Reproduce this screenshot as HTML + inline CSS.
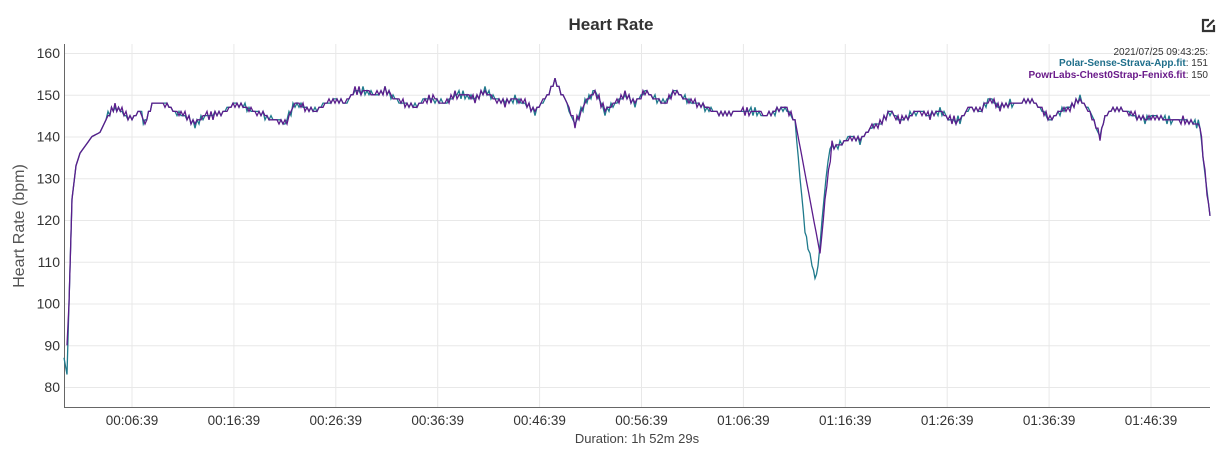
<!DOCTYPE html>
<html><head><meta charset="utf-8"><style>
body{margin:0;background:#fff;width:1231px;height:462px;overflow:hidden;font-family:"Liberation Sans",Arial,sans-serif}
</style></head><body>
<svg id="s" width="1231" height="462" xmlns="http://www.w3.org/2000/svg" font-family="Liberation Sans, Arial, sans-serif">
<text x="611" y="30" text-anchor="middle" font-size="17" font-weight="bold" fill="#333">Heart Rate</text>
<g id="grid" stroke="#e8e8e8" stroke-width="1"></g>
<line x1="64.5" y1="44" x2="64.5" y2="407" stroke="#666"/>
<line x1="64" y1="407.5" x2="1210" y2="407.5" stroke="#666"/>
<g id="yl" font-size="14" fill="#333" text-anchor="end"></g>
<g id="xl" font-size="13.5" fill="#333" text-anchor="middle"></g>
<text x="0" y="0" transform="translate(24,226) rotate(-90)" text-anchor="middle" font-size="16" fill="#555">Heart Rate (bpm)</text>
<text x="637" y="443" text-anchor="middle" font-size="13" fill="#444">Duration: 1h 52m 29s</text>
<text x="1208" y="55" text-anchor="end" font-size="10" fill="#333">2021/07/25 09:43:25:</text>
<text x="1208" y="66" text-anchor="end" font-size="10" fill="#333"><tspan fill="#1f6f8b" font-weight="bold">Polar-Sense-Strava-App.fit</tspan>: 151</text>
<text x="1208" y="78" text-anchor="end" font-size="10" fill="#333"><tspan fill="#6a1b8a" font-weight="bold">PowrLabs-Chest0Strap-Fenix6.fit</tspan>: 150</text>
<g transform="translate(1202,19)" stroke="#333" stroke-width="2.2" fill="none"><path d="M7 1H1V12H12V6"/><path d="M5 8L12 1"/></g>
<polyline id="t" fill="none" stroke="#1f7a8c" stroke-width="1.3"/>
<polyline id="p" fill="none" stroke="#5b1d8c" stroke-width="1.3"/>
</svg>
<script>
var Y=v=>387-(v-80)*4.175,ns="http://www.w3.org/2000/svg";
function el(g,t,a,txt){var e=document.createElementNS(ns,t);for(var k in a)e.setAttribute(k,a[k]);if(txt)e.textContent=txt;document.getElementById(g).appendChild(e);}
for(var v=80;v<=160;v+=10){el('grid','line',{x1:65,x2:1210,y1:Y(v)+.5,y2:Y(v)+.5});el('yl','text',{x:60,y:Y(v)+5},v);}
var lab=["00:06:39","00:16:39","00:26:39","00:36:39","00:46:39","00:56:39","01:06:39","01:16:39","01:26:39","01:36:39","01:46:39"];
lab.forEach((l,i)=>{var x=132+i*101.9;el('grid','line',{x1:x,x2:x,y1:44,y2:407});el('xl','text',{x:x,y:425},l);});
var base=[[64,87],[67,83],[69,100],[72,125],[76,133],[80,136],[86,138],[92,140],[100,141],[108,145],[115,147],[122,146],[130,144],[140,146],[145,143],[152,148],[165,148],[175,146],[185,145],[195,143],[205,145],[215,145],[225,146],[235,148],[245,147],[255,146],[265,145],[275,144],[285,143],[295,148],[305,147],[315,146],[325,148],[335,149],[345,148],[355,151],[365,151],[375,150],[385,151],[395,149],[405,148],[415,147],[425,149],[435,149],[445,148],[455,150],[465,150],[475,149],[485,151],[495,149],[505,148],[515,149],[525,148],[535,146],[545,149],[555,153],[565,149],[575,143],[585,148],[595,151],[605,146],[615,148],[625,150],[635,148],[645,151],[655,149],[665,148],[675,151],[685,149],[695,148],[705,147],[715,146],[725,145],[735,146],[745,146],[755,146],[765,145],[775,146],[785,147],[795,144]];
var post=[[840,138],[850,140],[860,139],[870,142],[880,143],[890,146],[900,144],[910,145],[920,146],[930,145],[940,146],[950,144],[960,144],[970,147],[980,146],[990,149],[1000,147],[1010,148],[1020,148],[1030,149],[1040,147],[1050,144],[1060,146],[1070,147],[1080,149],[1090,146],[1100,140],[1105,145],[1115,147],[1125,146],[1135,145],[1145,144],[1155,145],[1165,144],[1175,144],[1185,144],[1195,143],[1200,143],[1203,135],[1207,127],[1210,121]];
function wig(arr,seed){var out=[];for(var i=0;i<arr.length-1;i++){var a=arr[i],b=arr[i+1];var n=Math.max(1,Math.round((b[0]-a[0])/2));for(var j=0;j<n;j++){var x=a[0]+(b[0]-a[0])*j/n,v=a[1]+(b[1]-a[1])*j/n;if(a[0]>100&&b[0]-a[0]<=12)v=Math.round(v+Math.sin(x*1.7+seed)*0.6);out.push([x,v]);}}out.push(arr[arr.length-1]);return out;}
var teal=wig(base.concat([[800,130],[805,118],[808,113],[812,110],[815,106],[818,108],[822,120],[826,130],[830,137]]).concat(post),0);
var pur=wig(base.slice(2).concat([[820,112],[825,125],[832,138]]).concat(post),1);
pur.unshift([67,90]);
var f=a=>a.map(p=>p[0].toFixed(1)+","+Y(p[1]).toFixed(1)).join(" ");
document.getElementById('t').setAttribute('points',f(teal));
document.getElementById('p').setAttribute('points',f(pur));
</script>
</body></html>
